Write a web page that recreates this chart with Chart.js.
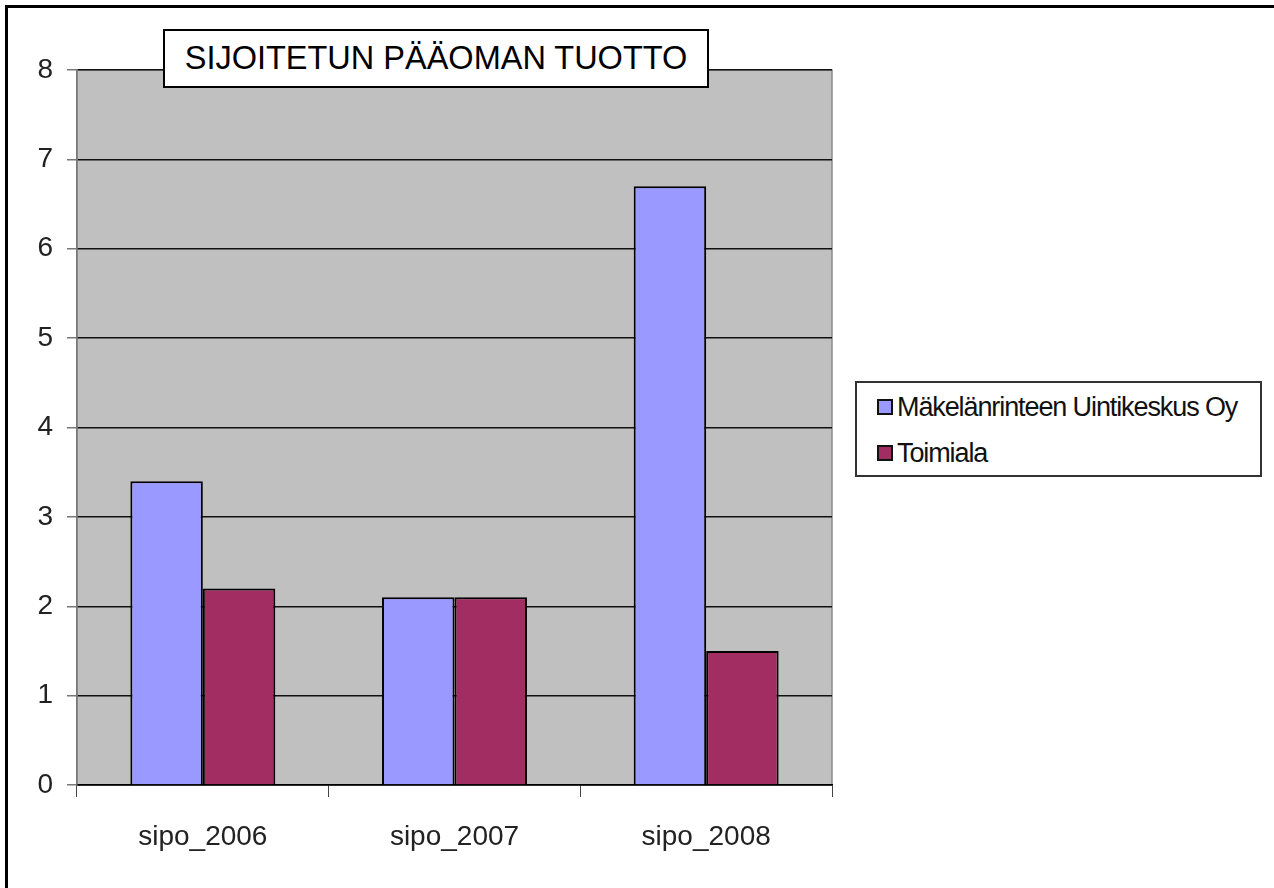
<!DOCTYPE html>
<html>
<head>
<meta charset="utf-8">
<script src="https://cdn.jsdelivr.net/npm/chart.js@4/dist/chart.umd.min.js"></script>
<style>
    body { margin: 0; background: #fff; }
    #wrap { position: relative; width: 1274px; height: 888px; overflow: hidden; background: #fff; }
    #frameTop { position: absolute; left: 5px; top: 5px; width: 1269px; height: 3px; background: #000; }
    #frameLeft { position: absolute; left: 5px; top: 5px; width: 3px; height: 883px; background: #000; }
    #title {
        position: absolute; left: 163px; top: 29px; width: 542px; height: 55px;
        border: 2px solid #000; background: #fff;
        font: 32.5px Arial, "Liberation Sans", sans-serif; color: #000;
        display: flex; align-items: center; justify-content: center;
    }
    #legend {
        position: absolute; left: 855px; top: 381px; width: 403px; height: 92px;
        border: 2px solid #333; background: #fff;
    }
    .legend-item {
        position: absolute; left: 20px; height: 32px; display: flex; align-items: center;
        white-space: nowrap; letter-spacing: -1.1px;
        font: 27px Arial, "Liberation Sans", sans-serif; color: #111;
    }
    .legend-box { width: 12px; height: 12px; border: 2px solid #111; margin-right: 4px; }
</style>
</head>
<body>
<div id="wrap">
    <canvas id="chart" width="1274" height="888"></canvas>
    <div id="frameTop"></div>
    <div id="frameLeft"></div>
    <div id="title"></div>
    <div id="legend"></div>
</div>
<script>
const chartTitle = 'SIJOITETUN PÄÄOMAN TUOTTO';
const categories = ['sipo_2006', 'sipo_2007', 'sipo_2008'];
const seriesNames = ['Mäkelänrinteen Uintikeskus Oy', 'Toimiala'];
const companyValues = [3.4, 2.1, 6.7];
const industryValues = [2.2, 2.1, 1.5];
const seriesColors = ['#9999ff', '#a22d62'];

// plot background like the old spreadsheet chart
const plotBackground = {
    id: 'plotBackground',
    beforeDraw(chart) {
        const { ctx, chartArea: a } = chart;
        ctx.save();
        ctx.fillStyle = '#c0c0c0';
        ctx.fillRect(a.left, a.top, a.right - a.left, a.bottom - a.top);
        ctx.strokeStyle = '#8c8c8c';
        ctx.lineWidth = 1.5;
        ctx.strokeRect(a.left, a.top, a.right - a.left, a.bottom - a.top);
        ctx.restore();
    }
};

const chart = new Chart(document.getElementById('chart'), {
    type: 'bar',
    data: {
        labels: categories,
        datasets: [
            {
                label: seriesNames[0],
                data: companyValues,
                backgroundColor: seriesColors[0],
                borderColor: '#000',
                borderWidth: 2
            },
            {
                label: seriesNames[1],
                data: industryValues,
                backgroundColor: seriesColors[1],
                borderColor: '#000',
                borderWidth: 2
            }
        ]
    },
    options: {
        responsive: false,
        animation: false,
        layout: { padding: { left: 0, top: 70, right: 442, bottom: 0 } },
        categoryPercentage: 0.576,
        barPercentage: 1,
        plugins: {
            legend: { display: false },
            title: { display: false },
            tooltip: { enabled: false }
        },
        scales: {
            x: {
                grid: {
                    drawOnChartArea: false,
                    drawTicks: true,
                    tickLength: 12,
                    tickColor: '#444',
                    offset: true
                },
                border: { color: '#000', width: 1.5 },
                ticks: {
                    color: '#222',
                    padding: 23,
                    font: { family: 'Arial', size: 28 }
                },
                afterFit(scale) { scale.height = 103; }
            },
            y: {
                min: 0,
                max: 8,
                ticks: {
                    stepSize: 1,
                    color: '#222',
                    padding: 14,
                    font: { family: 'Arial', size: 28 }
                },
                grid: {
                    color: '#111',
                    lineWidth: 1.5,
                    tickLength: 10,
                    tickColor: '#777'
                },
                border: { color: '#777', width: 1.5 },
                afterFit(scale) { scale.width = 77; }
            }
        }
    },
    plugins: [plotBackground]
});

document.getElementById('title').textContent = chartTitle;

// legend built from the datasets
const legendEl = document.getElementById('legend');
chart.data.datasets.forEach((ds, i) => {
    const item = document.createElement('div');
    item.className = 'legend-item';
    item.style.top = (i === 0 ? 8 : 54) + 'px';
    item.innerHTML = `<span class="legend-box" style="background:${ds.backgroundColor}"></span><span>${ds.label}</span>`;
    legendEl.appendChild(item);
});
</script>
</body>
</html>
